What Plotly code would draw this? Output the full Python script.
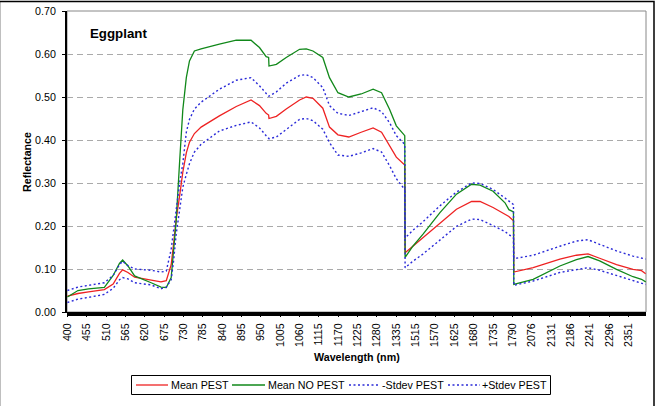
import plotly.graph_objects as go

# ---- data ----
wavelengths = [400, 430, 460, 505, 530, 548, 557, 572, 591, 610, 638, 666, 681, 695, 702, 709,
               719, 728, 738, 747, 761, 780, 832, 880, 922, 946, 965, 972, 973, 994, 1022, 1060,
               1079, 1098, 1126, 1145, 1169, 1200, 1235, 1269, 1293, 1316, 1335, 1359,
               1485, 1507, 1536, 1584, 1631, 1674, 1698, 1735, 1769, 1780, 1793,
               2025, 2080, 2156, 2203, 2236, 2269, 2317, 2364, 2388, 2400]

mean_pest = [0.037, 0.043, 0.047, 0.052, 0.065, 0.090, 0.098, 0.092, 0.081, 0.078, 0.075, 0.070, 0.073,
             0.110, 0.160, 0.215, 0.270, 0.325, 0.370, 0.395, 0.415, 0.430, 0.456, 0.478, 0.493, 0.480,
             0.462, 0.458, 0.450, 0.455, 0.472, 0.493, 0.500, 0.497, 0.474, 0.430, 0.412, 0.407, 0.418,
             0.428, 0.418, 0.386, 0.360, 0.342,
             0.138, 0.153, 0.173, 0.208, 0.239, 0.257, 0.257, 0.243, 0.227, 0.222, 0.212,
             0.093, 0.103, 0.123, 0.132, 0.135, 0.125, 0.110, 0.099, 0.096, 0.089]

mean_no_pest = [0.035, 0.050, 0.054, 0.057, 0.085, 0.113, 0.121, 0.107, 0.084, 0.078, 0.068, 0.058, 0.057,
                0.080, 0.140, 0.210, 0.350, 0.470, 0.545, 0.584, 0.607, 0.612, 0.623, 0.632, 0.632, 0.615,
                0.594, 0.592, 0.572, 0.576, 0.592, 0.611, 0.612, 0.607, 0.592, 0.545, 0.510, 0.500, 0.507,
                0.518, 0.510, 0.471, 0.433, 0.410,
                0.127, 0.153, 0.181, 0.231, 0.274, 0.297, 0.295, 0.281, 0.254, 0.238, 0.233,
                0.064, 0.076, 0.107, 0.122, 0.129, 0.119, 0.099, 0.082, 0.076, 0.070]

minus_sd_pest = [0.022, 0.030, 0.034, 0.041, 0.055, 0.075, 0.080, 0.077, 0.068, 0.066, 0.063, 0.054, 0.058,
                 0.075, 0.120, 0.180, 0.240, 0.290, 0.320, 0.345, 0.372, 0.390, 0.421, 0.434, 0.442, 0.428,
                 0.410, 0.405, 0.403, 0.407, 0.425, 0.448, 0.450, 0.445, 0.425, 0.394, 0.365, 0.362, 0.370,
                 0.380, 0.372, 0.340, 0.310, 0.285,
                 0.103, 0.118, 0.135, 0.168, 0.199, 0.216, 0.215, 0.201, 0.187, 0.180, 0.173,
                 0.062, 0.072, 0.092, 0.099, 0.103, 0.097, 0.085, 0.072, 0.067, 0.064]

plus_sd_pest = [0.050, 0.058, 0.062, 0.068, 0.085, 0.110, 0.118, 0.108, 0.100, 0.099, 0.097, 0.093, 0.095,
                0.146, 0.190, 0.240, 0.300, 0.345, 0.418, 0.448, 0.472, 0.488, 0.518, 0.539, 0.545, 0.526,
                0.507, 0.502, 0.502, 0.512, 0.532, 0.550, 0.552, 0.545, 0.522, 0.480, 0.462, 0.457, 0.466,
                0.475, 0.466, 0.440, 0.410, 0.390,
                0.172, 0.190, 0.210, 0.247, 0.279, 0.300, 0.299, 0.285, 0.265, 0.258, 0.250,
                0.124, 0.132, 0.153, 0.165, 0.168, 0.157, 0.142, 0.130, 0.126, 0.123]

series_names = ["Mean PEST", "Mean NO PEST", "-Stdev PEST", "+Stdev PEST"]

# category axis: 1-nm bands with water-absorption regions removed
band_ranges = [(400, 1359), (1485, 1793), (2025, 2400)]
tick_labels = ["400", "455", "510", "565", "620", "675", "730", "785", "840", "895", "950", "1005",
               "1060", "1115", "1170", "1225", "1280", "1335", "1515", "1570", "1625", "1680", "1735",
               "1790", "2076", "2131", "2186", "2241", "2296", "2351"]
y_ticks = [0.0, 0.1, 0.2, 0.3, 0.4, 0.5, 0.6, 0.7]

categories = [str(w) for a, b in band_ranges for w in range(a, b + 1)]
xcat = [str(w) for w in wavelengths]

FONT = "Arial, Liberation Sans, sans-serif"
FS = 10.7
RED, GREEN, BLUE = "#ee2222", "#11881a", "#2a2ad8"
DOT = "2px,2.5px"
styles = [dict(color=RED, width=1.3), dict(color=GREEN, width=1.3),
          dict(color=BLUE, width=1.4, dash=DOT), dict(color=BLUE, width=1.4, dash=DOT)]

fig = go.Figure()
fig.add_trace(go.Scatter(x=categories, y=[None] * len(categories), mode="lines",
                         showlegend=False, hoverinfo="skip"))
for name, vals, st in zip(series_names, [mean_pest, mean_no_pest, minus_sd_pest, plus_sd_pest], styles):
    fig.add_trace(go.Scatter(x=xcat, y=vals, mode="lines", name=name, line=st))

W, H = 658, 406
L, R, T, B = 67, 12, 11, 94
PW, PH = W - L - R, H - T - B
BOT = H - B


def px(x):
    return (x - L) / PW


def py(y):
    return (BOT - y) / PH


fig.update_layout(
    width=W, height=H,
    margin=dict(l=L, r=R, t=T, b=B, autoexpand=False),
    paper_bgcolor="white", plot_bgcolor="white",
    font=dict(family=FONT, size=FS, color="#000000"),
    showlegend=False,
    xaxis=dict(type="category", categoryorder="array", categoryarray=categories,
               range=[-1.2, len(categories) - 0.2],
               tickmode="array", tickvals=tick_labels, ticktext=tick_labels,
               tickangle=-90, tickfont=dict(size=FS, family=FONT),
               ticks="outside", ticklen=4, tickcolor="#000000", ticklabelstandoff=2,
               showgrid=False, showline=True, linecolor="#000000", linewidth=1,
               zeroline=False, fixedrange=True),
    yaxis=dict(range=[0, 0.7], tickmode="array", tickvals=y_ticks, tickformat=".2f",
               tickfont=dict(size=FS, family=FONT),
               ticks="outside", ticklen=3, tickcolor="#000000", ticklabelstandoff=4,
               showgrid=True, gridcolor="#aaaaaa", gridwidth=1, griddash="6px,4px",
               showline=True, linecolor="#000000", linewidth=2,
               zeroline=False, fixedrange=True),
)

shapes = [
    # plot area border (gray)
    dict(type="rect", xref="paper", yref="paper", x0=0, x1=1, y0=0, y1=1,
         line=dict(color="#888888", width=1), layer="below"),
    # thick category-tick band under the x axis
    dict(type="rect", xref="paper", yref="paper", x0=0, x1=1, y0=py(BOT + 4), y1=0,
         fillcolor="#000000", line=dict(width=0)),
    # outer chart border
    dict(type="rect", xref="paper", yref="paper",
         x0=px(-0.5), x1=px(654), y0=py(410), y1=py(1.5),
         line=dict(color="#000000", width=1.5)),
    # legend box
    dict(type="rect", xref="paper", yref="paper",
         x0=px(131.5), x1=px(550.5), y0=py(394.5), y1=py(375.5),
         fillcolor="white", line=dict(color="#000000", width=1)),
]

# legend entries: (line start, line end, text start)
legend_pos = [(136, 168, 170), (232, 265, 267), (349, 380, 381), (448, 480, 481)]
LEG_Y = 385
for (x0, x1, xt), name, st in zip(legend_pos, series_names, styles):
    shapes.append(dict(type="line", xref="paper", yref="paper",
                       x0=px(x0), x1=px(x1), y0=py(LEG_Y), y1=py(LEG_Y), line=st))
    fig.add_annotation(text=name, xref="paper", yref="paper", x=px(xt), y=py(LEG_Y),
                       xanchor="left", yanchor="middle", showarrow=False, borderpad=0,
                       font=dict(size=FS, family=FONT))

fig.update_layout(shapes=shapes)

fig.add_annotation(text="<b>Eggplant</b>", xref="paper", yref="paper",
                   x=px(89), y=py(33), xanchor="left", yanchor="middle",
                   showarrow=False, borderpad=0, font=dict(size=13.3, family=FONT))
fig.add_annotation(text="<b>Reflectance</b>", xref="paper", yref="paper",
                   x=px(27), y=py(162), xanchor="center", yanchor="middle", textangle=-90,
                   showarrow=False, font=dict(size=FS, family=FONT))
fig.add_annotation(text="<b>Wavelength (nm)</b>", xref="paper", yref="paper",
                   x=px(357), y=py(357), xanchor="center", yanchor="middle",
                   showarrow=False, font=dict(size=FS, family=FONT))

fig.write_html("out.html")
